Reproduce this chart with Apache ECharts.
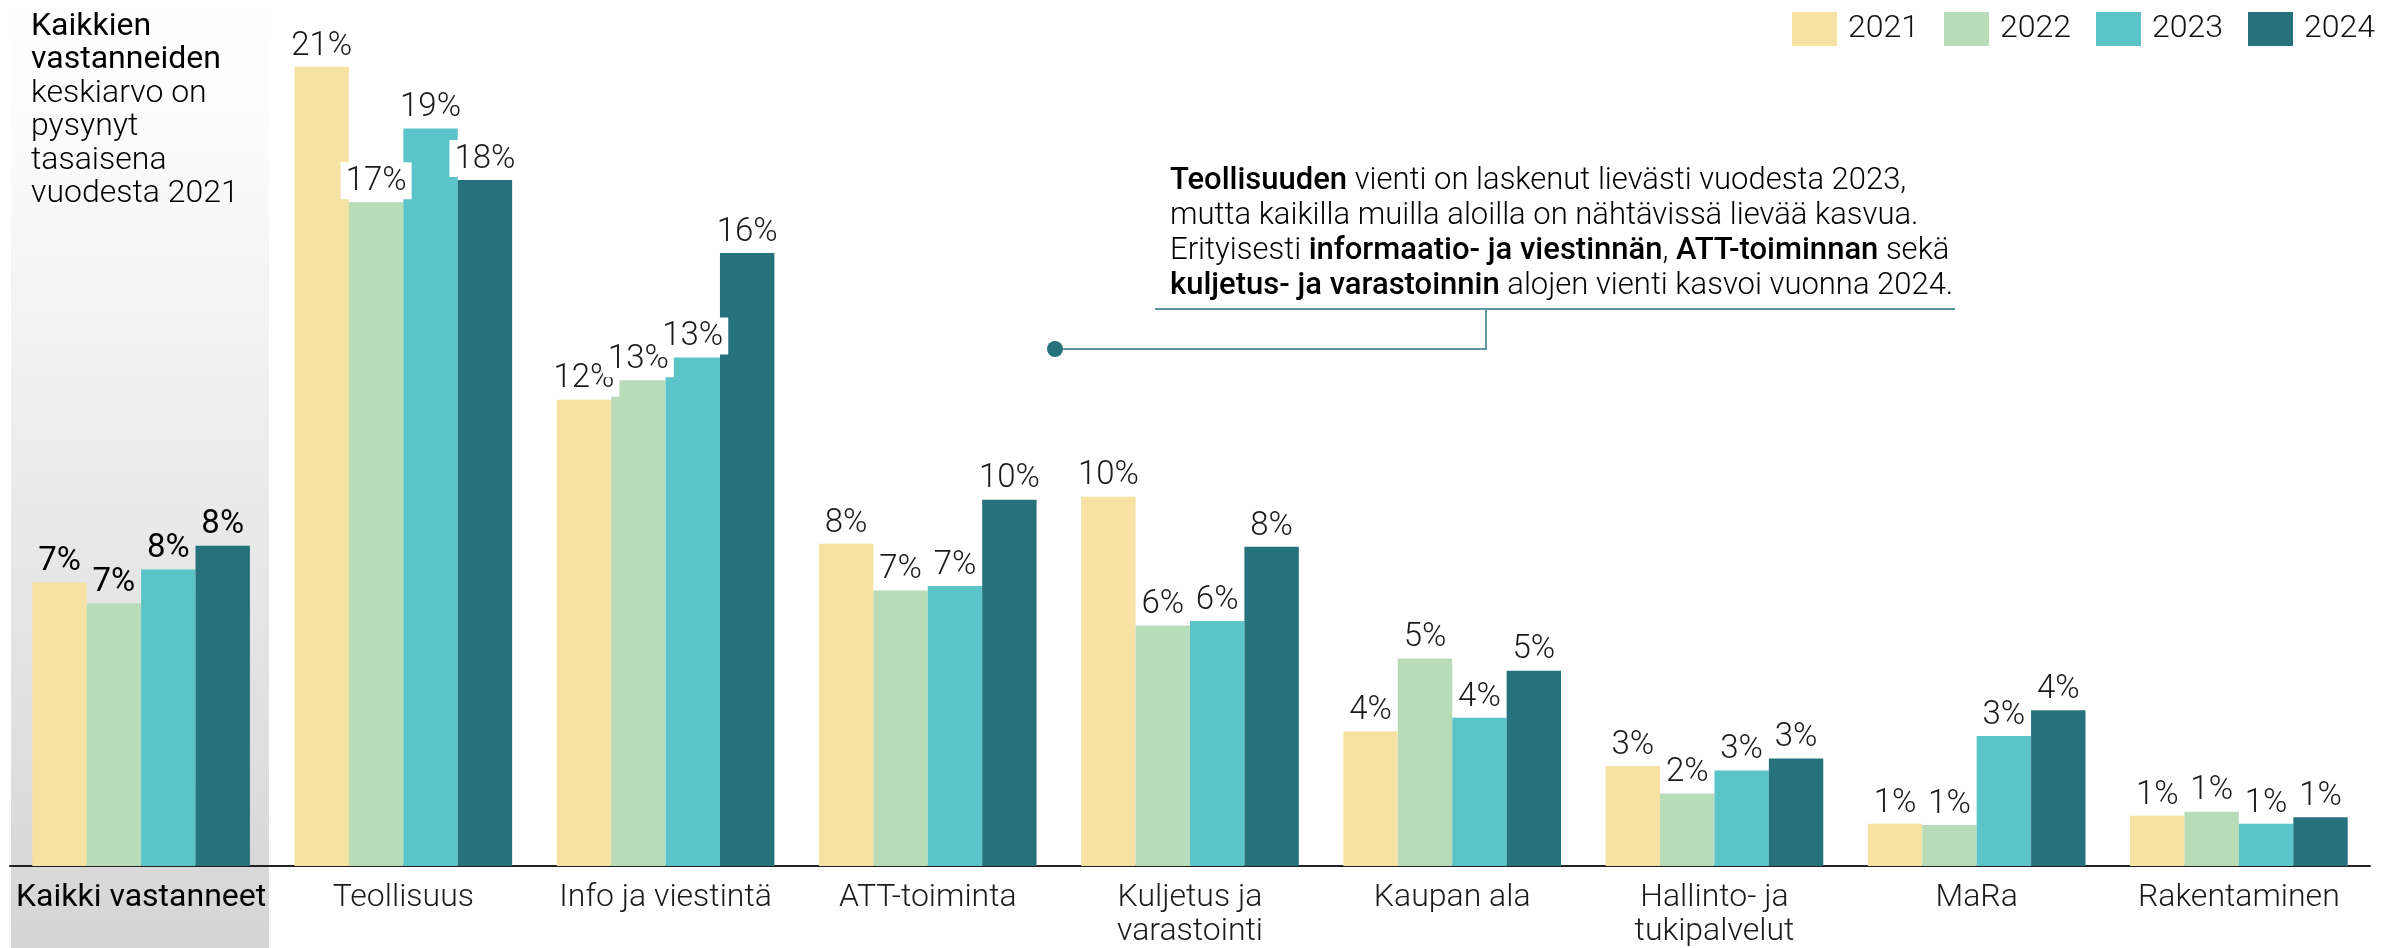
<!DOCTYPE html>
<html>
<head>
<meta charset="utf-8">
<script src="https://cdn.jsdelivr.net/npm/echarts@6/dist/echarts.min.js"></script>
<style>
html, body { margin: 0; padding: 0; background: #fff; }
#chart { width: 2384px; height: 948px; }
</style>
</head>
<body>
<div id="chart"></div>
<script>
var categories = ['Kaikki vastanneet', 'Teollisuus', 'Info ja viestintä', 'ATT-toiminta', 'Kuljetus ja\nvarastointi',
    'Kaupan ala', 'Hallinto- ja\ntukipalvelut', 'MaRa', 'Rakentaminen'];
var years = ['2021', '2022', '2023', '2024'];
var colors = ['#F6E2A2', '#B8DBB8', '#5AC4C9', '#25727D'];

// osuudet prosentteina
var v2021 = [7.46, 21.03, 12.27, 8.48, 9.72, 3.54, 2.63, 1.11, 1.32];
var v2022 = [6.91, 17.47, 12.78, 7.25, 6.33, 5.46, 1.91, 1.08, 1.43];
var v2023 = [7.80, 19.41, 13.38, 7.37, 6.45, 3.90, 2.51, 3.42, 1.11];
var v2024 = [8.43, 18.05, 16.13, 9.64, 8.40, 5.14, 2.83, 4.10, 1.28];
var values = [v2021, v2022, v2023, v2024];

var font = 'Roboto, "Liberation Sans", sans-serif';

var noteLines = [
    '{b|Teollisuuden}{n| vienti on laskenut lievästi vuodesta 2023,}',
    '{n|mutta kaikilla muilla aloilla on nähtävissä lievää kasvua.}',
    '{n|Erityisesti }{b|informaatio- ja viestinnän}{n|, }{b|ATT-toiminnan}{n| sekä}',
    '{b|kuljetus- ja varastoinnin}{n| alojen vienti kasvoi vuonna 2024.}'
];
var sideLines = [
    '{b|Kaikkien}',
    '{b|vastanneiden}',
    '{n|keskiarvo on}',
    '{n|pysynyt}',
    '{n|tasaisena}',
    '{n|vuodesta 2021}'
];

function makeSeries() {
    var serie = [];
    for (var i = 0; i < years.length; i++) {
        var data = [];
        for (var j = 0; j < values[i].length; j++) {
            if (j == 0) {
                data.push({
                    value: values[i][j],
                    label: { backgroundColor: 'transparent', color: '#000', fontWeight: 400 }
                });
            } else {
                data.push(values[i][j]);
            }
        }
        serie.push({
            name: years[i],
            type: 'bar',
            data: data,
            barGap: '0%',
            barCategoryGap: '17%',
            itemStyle: { color: colors[i] },
            label: {
                show: true,
                position: 'top',
                distance: 3,
                fontFamily: font,
                fontSize: 33,
                fontWeight: 300,
                color: '#1a1a1a',
                backgroundColor: '#fff',
                padding: [3, 5, 1, 5],
                formatter: function (p) { return Math.round(p.value) + '%'; }
            }
        });
    }
    return serie;
}

function madeChart() {
    var myChart = echarts.init(document.getElementById('chart'));

    var option = {
        animation: false,
        grid: { left: 10, right: 14, top: 30, bottom: 78 },
        legend: {
            data: years,
            left: 1787,
            top: 7,
            icon: 'rect',
            itemWidth: 45,
            itemHeight: 34,
            itemGap: 25,
            selectedMode: false,
            textStyle: { fontFamily: font, fontSize: 32, fontWeight: 300, color: '#111', padding: [0, 0, 0, 6] }
        },
        xAxis: {
            type: 'category',
            data: categories,
            axisLine: { lineStyle: { color: '#222', width: 2 } },
            axisTick: { show: false },
            axisLabel: {
                margin: 15,
                interval: 0,
                formatter: function (v, idx) {
                    var parts = v.split('\n');
                    var st = idx == 0 ? 'a' : 'c';
                    return parts.map(function (s) { return '{' + st + '|' + s + '}'; }).join('\n');
                },
                rich: {
                    a: { fontFamily: font, fontSize: 32, fontWeight: 400, color: '#000', lineHeight: 34 },
                    c: { fontFamily: font, fontSize: 32, fontWeight: 300, color: '#1a1a1a', lineHeight: 34 }
                }
            }
        },
        yAxis: {
            type: 'value',
            min: 0,
            max: 22,
            show: false,
            splitLine: { show: false }
        },
        graphic: {
            elements: [
                {
                    type: 'rect',
                    z: -10,
                    shape: { x: 11, y: 0, width: 258, height: 948 },
                    style: {
                        fill: new echarts.graphic.LinearGradient(0, 0, 0, 1, [
                            { offset: 0, color: '#ffffff' },
                            { offset: 0.15, color: '#fbfbfb' },
                            { offset: 1, color: '#d5d5d5' }
                        ])
                    }
                },
                {
                    type: 'text',
                    x: 31,
                    y: 10,
                    style: {
                        text: sideLines.join('\n'),
                        fill: '#000',
                        rich: {
                            b: { fontFamily: font, fontSize: 32, fontWeight: 400, color: '#000', lineHeight: 33.5 },
                            n: { fontFamily: font, fontSize: 32, fontWeight: 300, color: '#1a1a1a', lineHeight: 33.5 }
                        }
                    }
                },
                {
                    type: 'text',
                    x: 1170,
                    y: 164,
                    style: {
                        text: noteLines.join('\n'),
                        fill: '#000',
                        rich: {
                            b: { fontFamily: font, fontSize: 31, fontWeight: 500, color: '#000', lineHeight: 35 },
                            n: { fontFamily: font, fontSize: 31, fontWeight: 300, color: '#1a1a1a', lineHeight: 35 }
                        }
                    }
                },
                {
                    type: 'polyline',
                    shape: { points: [[1155, 309], [1955, 309]] },
                    style: { stroke: '#5E979E', lineWidth: 2, fill: null }
                },
                {
                    type: 'polyline',
                    shape: { points: [[1486, 309], [1486, 349], [1055, 349]] },
                    style: { stroke: '#5E979E', lineWidth: 2, fill: null }
                },
                {
                    type: 'circle',
                    shape: { cx: 1055, cy: 349, r: 8 },
                    style: { fill: '#25727D' }
                }
            ]
        },
        series: makeSeries()
    };

    myChart.setOption(option);
}

madeChart();
</script>
</body>
</html>
